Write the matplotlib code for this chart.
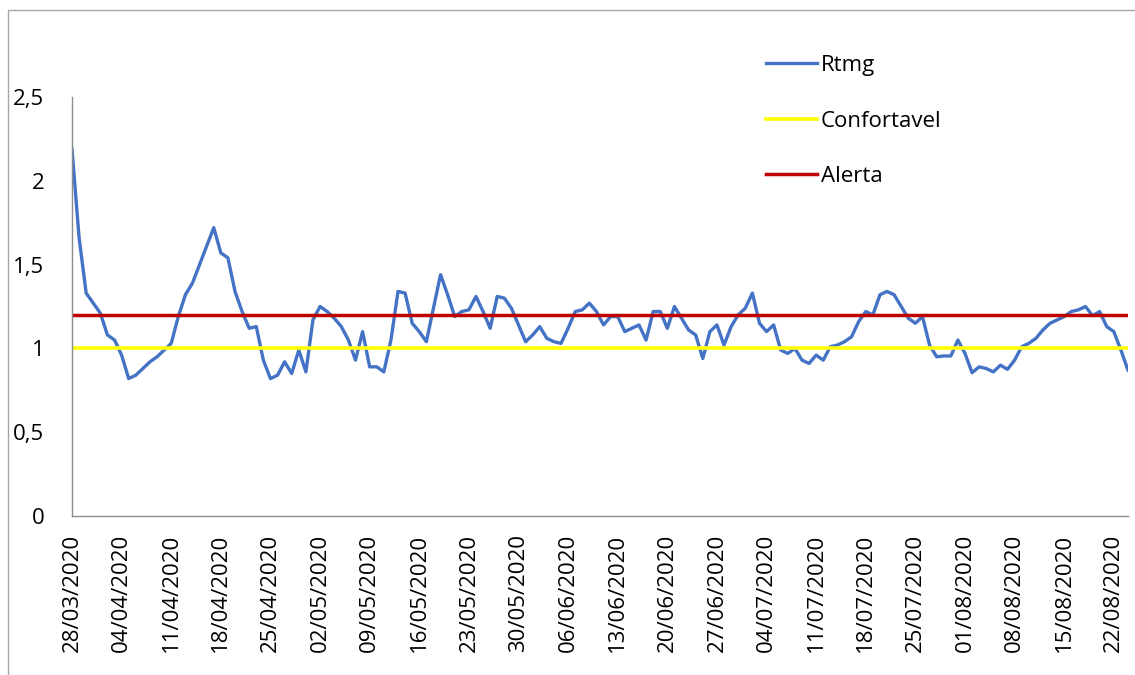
import numpy as np
import pandas as pd
import matplotlib
matplotlib.use("Agg")
import matplotlib.pyplot as plt
from matplotlib.patches import Rectangle

# daily Rtmg values, 28/03/2020 .. 24/08/2020
datas = pd.date_range("2020-03-28", "2020-08-24", freq="D")
rtmg = [2.19, 1.66, 1.33, 1.27, 1.21, 1.08, 1.05, 0.96, 0.82, 0.84,
        0.88, 0.92, 0.95, 0.99, 1.03, 1.19, 1.32, 1.39, 1.50, 1.61,
        1.72, 1.57, 1.54, 1.34, 1.22, 1.12, 1.13, 0.93, 0.82, 0.84,
        0.92, 0.85, 0.99, 0.86, 1.17, 1.25, 1.22, 1.18, 1.13, 1.05,
        0.93, 1.10, 0.89, 0.89, 0.86, 1.05, 1.34, 1.33, 1.15, 1.10,
        1.04, 1.24, 1.44, 1.32, 1.19, 1.22, 1.23, 1.31, 1.22, 1.12,
        1.31, 1.30, 1.24, 1.14, 1.04, 1.08, 1.13, 1.06, 1.04, 1.03,
        1.12, 1.22, 1.23, 1.27, 1.22, 1.14, 1.19, 1.19, 1.10, 1.12,
        1.14, 1.05, 1.22, 1.22, 1.12, 1.25, 1.18, 1.11, 1.08, 0.94,
        1.10, 1.14, 1.02, 1.13, 1.20, 1.24, 1.33, 1.15, 1.10, 1.14,
        0.99, 0.97, 1.00, 0.93, 0.91, 0.96, 0.93, 1.01, 1.02, 1.04,
        1.07, 1.16, 1.22, 1.20, 1.32, 1.34, 1.32, 1.25, 1.18, 1.15,
        1.19, 1.02, 0.95, 0.955, 0.955, 1.05, 0.97, 0.855, 0.89, 0.88,
        0.86, 0.90, 0.875, 0.93, 1.01, 1.03, 1.06, 1.11, 1.15, 1.17,
        1.19, 1.22, 1.23, 1.25, 1.195, 1.22, 1.13, 1.10, 0.99, 0.87]
confortavel = 1.0
alerta = 1.2

y_ticks = [0, 0.5, 1, 1.5, 2, 2.5]
y_labels = ["0", "0,5", "1", "1,5", "2", "2,5"]

plt.rcParams['font.family'] = ['Open Sans', 'DejaVu Sans']

fig = plt.figure(figsize=(11.35, 6.75), dpi=100)
ax = fig.add_axes([72/1135, 1 - 516/675, (1128-72)/1135, (516-97)/675])

x = np.arange(len(rtmg))
ax.plot(x, rtmg, color="#4472C4", lw=2.4, label="Rtmg", solid_joinstyle="round")
ax.plot(x, [confortavel]*len(x), color="#FFFF00", lw=2.6, label="Confortavel")
ax.plot(x, [alerta]*len(x), color="#C00000", lw=2.5, label="Alerta")

ax.set_xlim(0, len(x) - 1)
ax.set_ylim(0, 2.5)
ax.set_yticks(y_ticks)
ax.set_yticklabels(y_labels)
tick_pos = x[::7]
ax.set_xticks(tick_pos)
ax.set_xticklabels([d.strftime("%d/%m/%Y") for d in datas[::7]], rotation=90)
ax.tick_params(axis="both", length=0, labelsize=16, colors="black")
ax.tick_params(axis="y", pad=20)
ax.tick_params(axis="x", pad=13)

for s in ["top", "right"]:
    ax.spines[s].set_visible(False)
for s in ["left", "bottom"]:
    ax.spines[s].set_color("#8c8c8c")
    ax.spines[s].set_linewidth(1.0)

leg = ax.legend(loc="upper left", bbox_to_anchor=(755/1135, 1 - 44/675),
                bbox_transform=fig.transFigure, frameon=False, fontsize=16,
                handlelength=2.3, handletextpad=0.15, labelspacing=1.55,
                borderpad=0)

# outer chart border (cropped at right/bottom)
fig.patches.append(Rectangle((8/1135, -0.1), 1.2, 1 - 10/675 + 0.1,
                             transform=fig.transFigure, fill=False,
                             edgecolor="#a6a6a6", lw=1.0))

fig.savefig("out.png", dpi=100)
